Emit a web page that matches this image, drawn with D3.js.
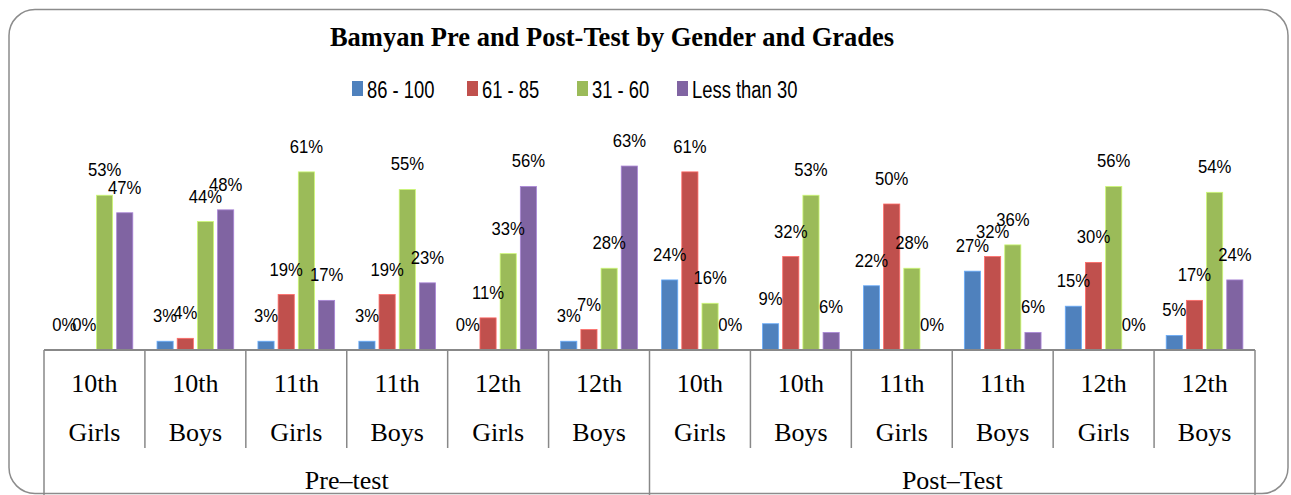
<!DOCTYPE html>
<html>
<head>
<meta charset="utf-8">
<script src="https://cdn.jsdelivr.net/npm/d3@7"></script>
<style>
  body { margin: 0; background: #fff; }
  svg { display: block; }
</style>
</head>
<body>
<div id="chart"></div>
<script>
const width = 1291, height = 495;

const series = ['86 - 100', '61 - 85', '31 - 60', 'Less than 30'];
const colors = ['#4F81BD', '#C0504D', '#9BBB59', '#8064A2'];
const phases = ['Pre\u2013test', 'Post\u2013Test'];
const grades = ['10th', '10th', '11th', '11th', '12th', '12th'];
const genders = ['Girls', 'Boys', 'Girls', 'Boys', 'Girls', 'Boys'];

// percentages per group, order: 86-100, 61-85, 31-60, <30
const preValues = [
  [0, 0, 53, 47],
  [3, 4, 44, 48],
  [3, 19, 61, 17],
  [3, 19, 55, 23],
  [0, 11, 33, 56],
  [3, 7, 28, 63]
];
const postValues = [
  [24, 61, 16, 0],
  [9, 32, 53, 6],
  [22, 50, 28, 0],
  [27, 32, 36, 6],
  [15, 30, 56, 0],
  [5, 17, 54, 24]
];

// build group list
const groups = [];
[preValues, postValues].forEach((vals, p) => {
  vals.forEach((v, i) => {
    groups.push({ id: p + '-' + i, phase: p, grade: grades[i], gender: genders[i], values: v });
  });
});

const sans = '"Liberation Sans", Arial, sans-serif';
const serif = '"Liberation Serif", "Times New Roman", serif';

// squeeze a text horizontally (calibri-like narrow look)
function narrow(sel, k) {
  sel.each(function () {
    const w = this.getComputedTextLength();
    d3.select(this).attr('textLength', w * k).attr('lengthAdjust', 'spacingAndGlyphs');
  });
}

const svg = d3.select('#chart').append('svg').attr('width', width).attr('height', height);

// outer frame
svg.append('rect')
  .attr('x', 9).attr('y', 9.5)
  .attr('width', 1279).attr('height', 484)
  .attr('rx', 26).attr('ry', 26)
  .attr('fill', 'none').attr('stroke', '#8c8c8c').attr('stroke-width', 1.5);

// title
svg.append('text')
  .attr('x', 612).attr('y', 46)
  .attr('text-anchor', 'middle')
  .style('font-family', serif)
  .style('font-weight', 'bold')
  .style('font-size', '26.5px')
  .text('Bamyan Pre and Post-Test by Gender and Grades');

// legend
const legendX = [352, 467, 577, 677];
const legend = svg.append('g');
series.forEach((s, i) => {
  legend.append('rect')
    .attr('x', legendX[i]).attr('y', 81)
    .attr('width', 11).attr('height', 15)
    .attr('fill', colors[i]);
  legend.append('text')
    .attr('x', legendX[i] + 15).attr('y', 97.5)
    .style('font-family', sans)
    .style('font-size', '23px')
    .attr('fill', '#000')
    .text(s)
    .call(narrow, 0.8);
});

// scales
const x0 = d3.scaleBand().domain(groups.map(d => d.id)).range([44, 1255]).padding(0);
const x1 = d3.scaleBand().domain(series).range([0, x0.bandwidth()]).paddingInner(0.2).paddingOuter(0.6);
const y = d3.scaleLinear().domain([0, 70]).range([350, 145.6]);

// bars
const g = svg.append('g');
const grp = g.selectAll('g.grp').data(groups).enter().append('g')
  .attr('class', 'grp')
  .attr('transform', d => `translate(${x0(d.id)},0)`);

grp.selectAll('rect').data(d => d.values.map((v, i) => ({ s: series[i], v, c: colors[i] })))
  .enter().append('rect')
  .attr('x', d => x1(d.s))
  .attr('y', d => y(d.v))
  .attr('width', x1.bandwidth())
  .attr('height', d => y(0) - y(d.v))
  .attr('fill', d => d.c)
  .attr('stroke', d => d3.color(d.c).brighter(0.8))
  .attr('stroke-width', 0.8);

grp.selectAll('text').data(d => d.values.map((v, i) => ({ s: series[i], v })))
  .enter().append('text')
  .attr('x', d => x1(d.s) + x1.bandwidth() / 2)
  .attr('y', d => y(d.v) - 19)
  .attr('text-anchor', 'middle')
  .style('font-family', sans)
  .style('font-size', '18.5px')
  .attr('fill', '#000')
  .text(d => d.v + '%')
  .call(narrow, 0.9);

// category axis
const axisColor = '#888';
svg.append('line')
  .attr('x1', 44).attr('x2', 1255).attr('y1', 350).attr('y2', 350)
  .attr('stroke', axisColor).attr('stroke-width', 2);

groups.forEach((d, i) => {
  const long = i % 6 === 0;
  svg.append('line')
    .attr('x1', x0(d.id)).attr('x2', x0(d.id))
    .attr('y1', 350).attr('y2', long ? 495 : 448)
    .attr('stroke', axisColor).attr('stroke-width', 1.5);
});
svg.append('line')
  .attr('x1', 1255).attr('x2', 1255).attr('y1', 350).attr('y2', 495)
  .attr('stroke', axisColor).attr('stroke-width', 1.5);

const labels = svg.append('g');
groups.forEach(d => {
  const cx = x0(d.id) + x0.bandwidth() / 2;
  labels.append('text').attr('x', cx).attr('y', 392)
    .attr('text-anchor', 'middle').style('font-family', serif).style('font-size', '26px')
    .text(d.grade);
  labels.append('text').attr('x', cx).attr('y', 441)
    .attr('text-anchor', 'middle').style('font-family', serif).style('font-size', '26px')
    .text(d.gender);
});

phases.forEach((p, i) => {
  const first = x0(groups[i * 6].id);
  const last = x0(groups[i * 6 + 5].id) + x0.bandwidth();
  labels.append('text').attr('x', (first + last) / 2).attr('y', 489)
    .attr('text-anchor', 'middle').style('font-family', serif).style('font-size', '26px')
    .text(p);
});
</script>
</body>
</html>
